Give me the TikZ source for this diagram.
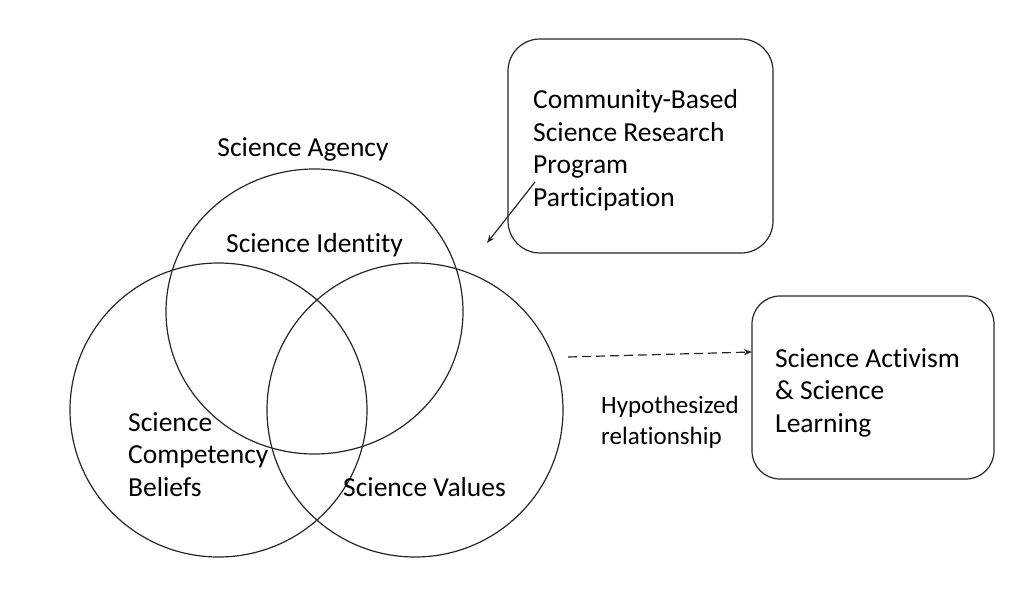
\documentclass[tikz,border=0pt]{standalone}
\usepackage{fontspec}
\setmainfont[Ligatures={NoCommon,NoRequired,NoContextual}]{Carlito}
\usetikzlibrary{arrows.meta}
\begin{document}
\begin{tikzpicture}[x=1pt,y=-1pt,
  lbl/.style={inner sep=0pt,font=\fontsize{27.5}{32.5}\selectfont},
  ln/.style={line width=1.2pt,draw=black!85},
  box/.style={ln,rounded corners=32pt},
  tip/.style={-{Stealth[length=8pt,width=6pt]}}]
\useasboundingbox (0,0) rectangle (1024,591);
% circles
\draw[ln] (314.5,311.5) ellipse [x radius=148.5, y radius=142.5];
\draw[ln] (218.5,410) ellipse [x radius=148.5, y radius=147];
\draw[ln] (415,410) ellipse [x radius=148, y radius=147];
% boxes
\draw[box] (508,39) rectangle (773,253);
\draw[box,rounded corners=28pt] (752,296) rectangle (994,479);
% texts
\node[lbl,anchor=base] (agency) at (303,156) {Science Agency};
\node[lbl,anchor=base] (identity) at (314.5,252) {Science Identity};
\node[lbl,anchor=base west,align=left] (comp) at (128,496) {Science\\Competency\\Beliefs};
\node[lbl,anchor=base west] (values) at (343,496) {Science Values};
\node[lbl,anchor=base west,align=left] (cbsr) at (533,206) {Community-Based\\Science Research\\Program\\Participation};
\node[lbl,anchor=base west,align=left] (act) at (775,432) {Science Activism\\\& Science\\Learning};
\node[lbl,anchor=base west,align=left,font=\fontsize{25}{31}\selectfont] (hyp) at (601,444) {Hypothesized\\relationship};
% connectors
\coordinate (a1) at (535,182);
\coordinate (a2) at (487,243);
\draw[ln,tip] (a1) -- (a2);
\coordinate (d1) at (568,357);
\coordinate (d2) at (752,352);
\draw[ln,tip,dash pattern=on 9pt off 5pt] (d1) -- (d2);
\end{tikzpicture}
\end{document}
